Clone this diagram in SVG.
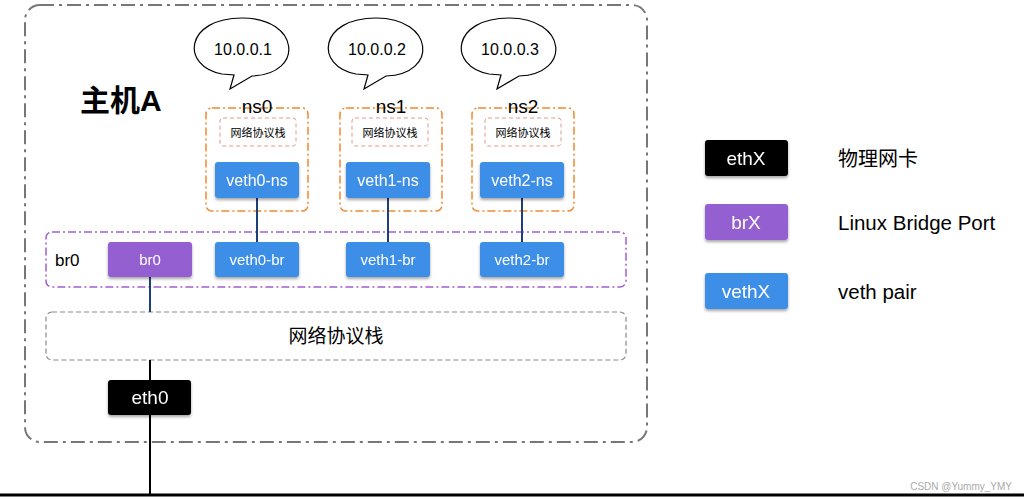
<svg xmlns="http://www.w3.org/2000/svg" width="1024" height="500" viewBox="0 0 1024 500">
<style>
text{font-family:"Liberation Sans","Noto Sans CJK SC",sans-serif;}
.blue{fill:#3d8ee6}
.node{filter:url(#sh)}
.wt{fill:#fff;text-anchor:middle}
.ns{fill:none;stroke:#f0892e;stroke-width:1.5;stroke-dasharray:8 3 2 3}
.inner{fill:none;stroke:#e39a8a;stroke-width:1;stroke-dasharray:4 3}
.bub{fill:#fff;stroke:#000;stroke-width:1.2}
.link{stroke:#1c3f7a;stroke-width:2}
</style>
<defs><filter id="sh" x="-20%" y="-20%" width="140%" height="150%"><feDropShadow dx="0" dy="2" stdDeviation="1.5" flood-opacity="0.35"/></filter></defs>
<rect width="1024" height="500" fill="#fff"/>
<g id="host">
<rect x="25" y="5" width="622" height="437" rx="15" fill="none" stroke="#777" stroke-width="2" stroke-dasharray="14 5 3 5"/>
<text x="80" y="111" font-size="30" font-weight="bold">主机A</text>
</g>
<g id="bubbles">
<path class="bub" d="M222,74 C180,66 185,18 242,18 C300,18 305,74 252,76 L230,89 L234,75 Z"/>
<text x="243" y="55" font-size="16" text-anchor="middle">10.0.0.1</text>
<path class="bub" d="M356,74 C314,66 319,18 376,18 C434,18 439,74 386,76 L364,89 L368,75 Z"/>
<text x="377" y="55" font-size="16" text-anchor="middle">10.0.0.2</text>
<path class="bub" d="M489,74 C447,66 452,18 509,18 C567,18 572,74 519,76 L497,89 L501,75 Z"/>
<text x="510" y="55" font-size="16" text-anchor="middle">10.0.0.3</text>
</g>
<g id="ns0"><rect class="ns" x="206" y="108" width="102" height="103" rx="6"/><text x="257" y="113" font-size="19" text-anchor="middle">ns0</text>
<rect class="inner" x="220" y="118" width="76" height="28" rx="3"/><text x="258" y="137" font-size="11" text-anchor="middle">网络协议栈</text></g>
<g id="ns1"><rect class="ns" x="340" y="108" width="102" height="103" rx="6"/><text x="391" y="113" font-size="19" text-anchor="middle">ns1</text>
<rect class="inner" x="352" y="118" width="76" height="28" rx="3"/><text x="390" y="137" font-size="11" text-anchor="middle">网络协议栈</text></g>
<g id="ns2"><rect class="ns" x="472" y="108" width="102" height="103" rx="6"/><text x="523" y="113" font-size="19" text-anchor="middle">ns2</text>
<rect class="inner" x="485" y="118" width="76" height="28" rx="3"/><text x="523" y="137" font-size="11" text-anchor="middle">网络协议栈</text></g>
<g id="br0box"><rect x="46" y="232" width="580" height="55" rx="6" fill="none" stroke="#a25ed6" stroke-width="1.5" stroke-dasharray="8 3 2 3"/>
<text x="55" y="266" font-size="17">br0</text></g>
<g id="stack"><rect x="46" y="312" width="580" height="48" rx="6" fill="none" stroke="#888" stroke-width="1.2" stroke-dasharray="5 3"/>
<text x="336" y="343" font-size="19" text-anchor="middle">网络协议栈</text></g>
<g id="connectors">
<line class="link" x1="257" y1="198" x2="257" y2="242"/>
<line class="link" x1="388" y1="198" x2="388" y2="242"/>
<line class="link" x1="522" y1="198" x2="522" y2="242"/>
<line class="link" x1="150" y1="277" x2="150" y2="312"/>
<line stroke="#000" stroke-width="2" x1="150" y1="360" x2="150" y2="380"/>
<line stroke="#000" stroke-width="2" x1="150" y1="415" x2="150" y2="495"/>
<line stroke="#000" stroke-width="3" x1="0" y1="495" x2="1024" y2="495"/>
</g>
<g id="veth0-ns" class="node"><rect class="blue" x="215" y="162" width="84" height="36" rx="3"/><text class="wt" x="257" y="186" font-size="16">veth0-ns</text></g>
<g id="veth1-ns" class="node"><rect class="blue" x="346" y="162" width="84" height="36" rx="3"/><text class="wt" x="388" y="186" font-size="16">veth1-ns</text></g>
<g id="veth2-ns" class="node"><rect class="blue" x="480" y="162" width="84" height="36" rx="3"/><text class="wt" x="522" y="186" font-size="16">veth2-ns</text></g>
<g id="br0" class="node"><rect fill="#9461d1" x="108" y="242" width="84" height="35" rx="3"/><text class="wt" x="150" y="265" font-size="15">br0</text></g>
<g id="veth0-br" class="node"><rect class="blue" x="215" y="242" width="84" height="35" rx="3"/><text class="wt" x="257" y="265" font-size="15">veth0-br</text></g>
<g id="veth1-br" class="node"><rect class="blue" x="346" y="242" width="84" height="35" rx="3"/><text class="wt" x="388" y="265" font-size="15">veth1-br</text></g>
<g id="veth2-br" class="node"><rect class="blue" x="480" y="242" width="84" height="35" rx="3"/><text class="wt" x="522" y="265" font-size="15">veth2-br</text></g>
<g id="eth0" class="node"><rect fill="#000" x="108" y="380" width="83" height="35" rx="3"/><text class="wt" x="150" y="404" font-size="19">eth0</text></g>
<g id="legend-eth" class="node"><rect fill="#000" x="705" y="140" width="83" height="36" rx="3"/><text class="wt" x="746" y="165" font-size="19">ethX</text></g>
<text x="838" y="166" font-size="20">物理网卡</text>
<g id="legend-br" class="node"><rect fill="#9461d1" x="705" y="204" width="83" height="36" rx="3"/><text class="wt" x="746" y="229" font-size="19">brX</text></g>
<text x="838" y="230" font-size="20.5">Linux Bridge Port</text>
<g id="legend-veth" class="node"><rect class="blue" x="705" y="273" width="83" height="36" rx="3"/><text class="wt" x="746" y="298" font-size="19">vethX</text></g>
<text x="838" y="299" font-size="20.5">veth pair</text>
<text x="1012" y="490" font-size="10" fill="#aaa" text-anchor="end">CSDN @Yummy_YMY</text>
</svg>
